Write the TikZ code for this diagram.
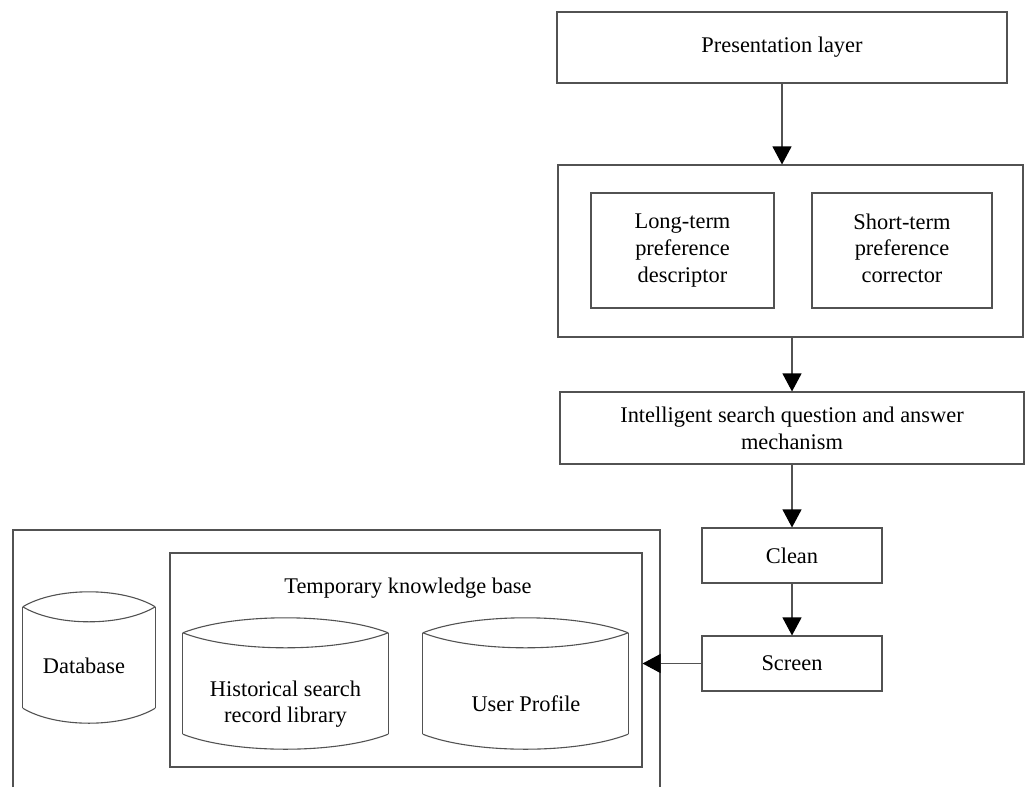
\documentclass[tikz,border=0pt]{standalone}
\usepackage{fontspec}
\setmainfont{Liberation Serif}
\usetikzlibrary{arrows.meta,calc}
\tikzset{
  ln/.style={draw=black!68, line width=1.1pt},
  box/.style={ln, rectangle, inner sep=0pt, align=center, text=black},
  arr/.style={ln, -{Triangle[length=18pt,width=19pt,color=black]}},
  txt/.style={align=center, text=black, inner sep=0pt},
}
\newcommand\dbcyl[5]{% name, L, R, T, B
  \pgfmathsetmacro\cw{#3-#2}\pgfmathsetmacro\ch{#5-#4}
  \node[inner sep=0pt, minimum width=\cw pt, minimum height=\ch pt] (#1) at ({(#2+#3)/2},{(#4+#5)/2}) {};
  \draw[ln] (#1.north west) .. controls +(0.25*\cw,-20) and +(-0.25*\cw,-20) .. (#1.north east);
  \draw[ln] (#1.north west) .. controls +(0.25*\cw,20) and +(-0.25*\cw,20) .. (#1.north east);
  \draw[ln] (#1.north west) -- (#1.south west);
  \draw[ln] (#1.north east) -- (#1.south east);
  \draw[ln] (#1.south west) .. controls +(0.25*\cw,20) and +(-0.25*\cw,20) .. (#1.south east);
}
\begin{document}
\begin{tikzpicture}[x=1pt,y=-1pt, font=\fontsize{22.4}{26.7}\selectfont]
\useasboundingbox (0,0) rectangle (1025,787);

% top column
\node[box, minimum width=450pt, minimum height=71pt] (pres) at (782,47.5) {Presentation layer};
\node[box, minimum width=465pt, minimum height=172pt] (pref) at (790.5,251) {};
\node[box, minimum width=183pt, minimum height=115pt] (long) at (682.5,250.5) {Long-term\\preference\\descriptor};
\node[box, minimum width=180pt, minimum height=115pt] (short) at (902,250.5) {Short-term\\preference\\corrector\vphantom{p}};
\node[box, minimum width=464pt, minimum height=72pt] (intel) at (792,428) {Intelligent search question and answer\\mechanism};
\node[box, minimum width=180pt, minimum height=55pt] (clean) at (792,555.5) {Clean};
\node[box, minimum width=180pt, minimum height=55pt] (screen) at (792,663.5) {Screen};

% bottom-left storage
\draw[ln] (13,787) -- (13,530) -- (660,530) -- (660,787);
\node[box, minimum width=472pt, minimum height=214pt] (temp) at (406,660) {};
\node[txt] (templabel) at (408,588) {Temporary knowledge base};

\dbcyl{db}{23}{155}{607}{708}
\node[txt] (dbtext) at (84,666) {Database};
\dbcyl{hist}{183}{388}{633}{734}
\node[txt] (histtext) at (285.5,704) {Historical search\\record library};
\dbcyl{user}{423}{628}{633}{734}
\node[txt] (usertext) at (526,704) {User Profile};

% connectors
\draw[arr] (pres.south) -- (pres.south |- pref.north);
\draw[arr] (pref.south -| intel.north) -- (intel.north);
\draw[arr] (intel.south) -- (clean.north);
\draw[arr] (clean.south) -- (screen.north);
\draw[arr] (screen.west) -- (screen.west -| temp.east);
\end{tikzpicture}
\end{document}
